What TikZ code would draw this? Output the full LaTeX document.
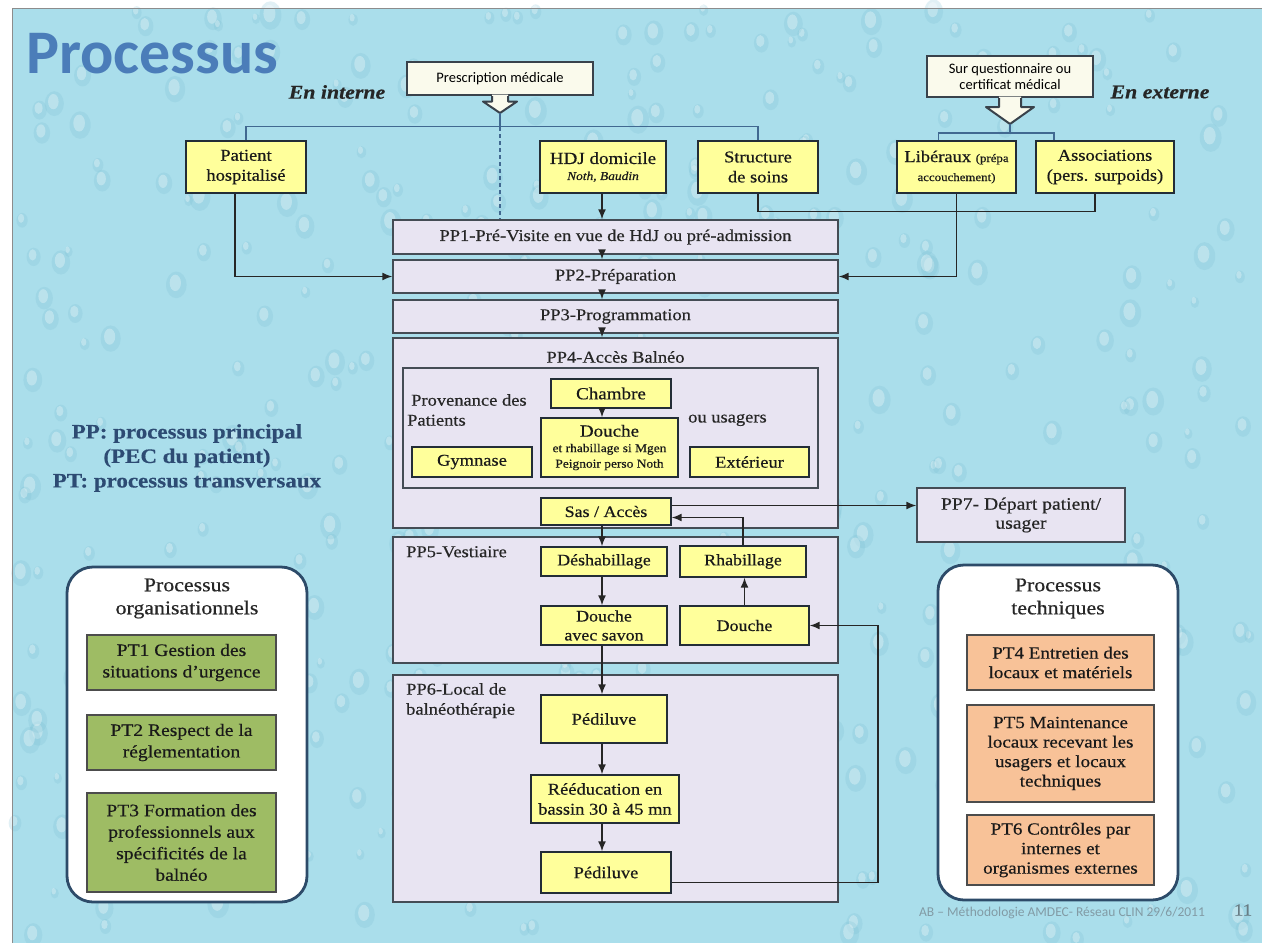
\documentclass[tikz,border=0pt]{standalone}
\usepackage{fontspec}
\setmainfont[FakeStretch=1.12,FakeBold=0.5]{Liberation Serif}
\newfontfamily\calibri{Carlito}
\usetikzlibrary{arrows.meta,calc}

\definecolor{slidebg}{RGB}{170,222,235}
\definecolor{dropcol}{RGB}{120,190,210}
\definecolor{boxline}{RGB}{35,45,55}
\definecolor{yellowbox}{RGB}{255,255,155}
\definecolor{lavender}{RGB}{232,228,242}
\definecolor{bracketcol}{RGB}{65,105,145}
\definecolor{titleblue}{RGB}{75,125,185}
\definecolor{legendblue}{RGB}{45,75,115}
\definecolor{ptgreen}{RGB}{158,188,100}
\definecolor{ptorange}{RGB}{248,194,152}
\definecolor{roundline}{RGB}{45,75,105}
\definecolor{calloutfill}{RGB}{250,250,236}
\definecolor{footgrey}{RGB}{130,155,165}

\tikzset{
  yelbox/.style={draw=boxline, line width=1.4pt, fill=yellowbox, align=center,
    inner sep=1pt, text=black!90, font=\fontsize{16.5}{19}\selectfont},
  ppbox/.style={draw=boxline!85, line width=1.4pt, fill=lavender, align=center,
    inner sep=1pt, text=black!85, font=\fontsize{16.5}{19}\selectfont},
  ppcap/.style={text=black!85, font=\fontsize{16.5}{20}\selectfont, align=left, inner sep=0pt},
  callout/.style={draw=boxline!90, line width=2pt, fill=calloutfill, align=center,
    inner sep=1pt, font=\calibri\fontsize{14.5}{16}\selectfont},
  roundbox/.style={draw=roundline, line width=2.8pt, fill=white, rounded corners=26pt},
  ptbox/.style={draw=black!70, line width=1.2pt, align=center, inner sep=1pt,
    text=black!90, font=\fontsize{17.5}{21.5}\selectfont, minimum width=189},
  sidelabel/.style={font=\bfseries\itshape\fontsize{19.5}{21}\selectfont, text=black!85},
  bracket/.style={draw=bracketcol, line width=1.6pt},
  link/.style={draw=black!85, line width=1.5pt},
  arr/.style={link, -{Latex[length=10pt,width=8pt]}},
}

\begin{document}
\begin{tikzpicture}[x=1pt,y=-1pt]
  \useasboundingbox (0,0) rectangle (1262,943);

  % Background
  \fill[white] (0,0) rectangle (1262,943);
  \fill[slidebg] (12,8) rectangle (1262,943);
  \pgfmathsetseed{11}
  \foreach \i in {1,...,420}{
    \pgfmathsetmacro\dx{14+1245*rnd}
    \pgfmathsetmacro\dy{10+930*rnd}
    \pgfmathsetmacro\rr{4+7*rnd}
    \fill[dropcol, opacity=.22] (\dx,\dy) ellipse ({\rr} and {1.3*\rr});
    \fill[white, opacity=.3] (\dx-1,\dy-2) ellipse ({.55*\rr} and {.8*\rr});
  }
  \draw[black!45, line width=1pt] (12,943) -- (12,8) -- (1262,8);

  % Title and side labels
  \node[anchor=base west, inner sep=0pt, text=titleblue,
        font=\calibri\bfseries\fontsize{62}{62}\selectfont] (title) at (26,73) {Processus};
  \node[sidelabel] (interne) at (337,92) {En interne};
  \node[sidelabel] (externe) at (1160,92) {En externe};

  % Callouts
  \node[callout, minimum width=186, minimum height=33] (presc) at (500,78.5) {Prescription médicale};
  \node[callout, minimum width=166, minimum height=41] (quest) at (1010,76.5) {Sur questionnaire ou\\certificat médical};

  \coordinate (prescTip) at ($(presc.south)+(0,17)$);
  \fill[calloutfill] ($(presc.south)+(-8,-1.5)$) -- ++(0,7) -- ++(-9,0) -- (prescTip)
    -- ($(presc.south)+(17,5.5)$) -- ++(-9,0) -- ++(0,-7) -- cycle;
  \draw[boxline!90, line width=2pt, line join=round] ($(presc.south)+(-8,0)$) -- ++(0,5.5) -- ++(-9,0)
    -- (prescTip) -- ($(presc.south)+(17,5.5)$) -- ++(-9,0) -- ++(0,-5.5);

  \coordinate (questTip) at ($(quest.south)+(0,26)$);
  \fill[calloutfill] ($(quest.south)+(-11,-1.5)$) -- ++(0,10.5) -- ++(-13,0) -- (questTip)
    -- ($(quest.south)+(24,9)$) -- ++(-13,0) -- ++(0,-10.5) -- cycle;
  \draw[boxline!90, line width=2pt, line join=round] ($(quest.south)+(-11,0)$) -- ++(0,9) -- ++(-13,0)
    -- (questTip) -- ($(quest.south)+(24,9)$) -- ++(-13,0) -- ++(0,-9);

  % Entry boxes
  \node[yelbox, minimum width=120, minimum height=52, font=\fontsize{16.5}{20}\selectfont] (patient) at (246,167) {Patient\\hospitalisé};
  \node[yelbox, minimum width=126, minimum height=52, font=\fontsize{17}{16}\selectfont] (hdj) at (603,167)
    {HDJ domicile\\{\itshape\fontsize{12}{13}\selectfont Noth, Baudin}};
  \node[yelbox, minimum width=120, minimum height=52, font=\fontsize{16.5}{20}\selectfont] (structure) at (758,167) {Structure\\de soins};
  \node[yelbox, minimum width=119, minimum height=52, font=\fontsize{16.5}{19}\selectfont] (liberaux) at (956.5,167)
    {Libéraux {\fontsize{11.5}{13}\selectfont(prépa}\\{\fontsize{11.5}{13}\selectfont accouchement)}};
  \node[yelbox, minimum width=138, minimum height=52, font=\fontsize{16.5}{20}\selectfont] (assoc) at (1105,167) {Associations\\(pers. surpoids)};

  % Main process column
  \coordinate (spine) at (602,0);
  \node[ppbox, minimum width=445, minimum height=34] (pp1) at (615.5,237) {PP1-Pré-Visite en vue de HdJ ou pré-admission};
  \node[ppbox, minimum width=445, minimum height=33] (pp2) at (615.5,276.5) {PP2-Préparation};
  \node[ppbox, minimum width=445, minimum height=33] (pp3) at (615.5,316.5) {PP3-Programmation};
  \node[ppbox, minimum width=445, minimum height=190] (pp4) at (615.5,433) {};
  \node[ppcap, font=\fontsize{16.5}{19}\selectfont] (pp4cap) at (615.5,357) {PP4-Accès Balnéo};
  \node[ppbox, minimum width=415, minimum height=120] (prov) at (610.5,428) {};
  \node[ppcap, anchor=west] (provcap) at (407,410) {\hspace*{4pt}Provenance des\\Patients};
  \node[ppcap, anchor=west] (usagers) at (688,420) {ou usagers};
  \node[yelbox, minimum width=120, minimum height=29, font=\fontsize{17}{18}\selectfont] (chambre) at (611,393.5) {Chambre};
  \node[yelbox, minimum width=137, minimum height=59, font=\fontsize{17}{15.5}\selectfont] (douche1) at (609.5,447.5)
    {Douche\\{\fontsize{12}{15}\selectfont et rhabillage si Mgen}\\{\fontsize{12}{15}\selectfont Peignoir perso Noth}};
  \node[yelbox, minimum width=120, minimum height=30, font=\fontsize{16.5}{18}\selectfont] (gymnase) at (472,462) {Gymnase};
  \node[yelbox, minimum width=119, minimum height=30, font=\fontsize{16.5}{18}\selectfont] (exterieur) at (749.5,462) {Extérieur};
  \node[yelbox, minimum width=130, minimum height=27, font=\fontsize{16}{18}\selectfont] (sas) at (606,511.5) {Sas / Accès};

  \node[ppbox, minimum width=445, minimum height=126] (pp5) at (615.5,600) {};
  \node[ppcap, anchor=north west] (pp5cap) at (406,546) {PP5-Vestiaire};
  \node[yelbox, minimum width=126, minimum height=29, font=\fontsize{16}{18}\selectfont] (deshab) at (604,561.5) {Déshabillage};
  \node[yelbox, minimum width=126, minimum height=31, font=\fontsize{16}{18}\selectfont] (rhab) at (743,561.5) {Rhabillage};
  \node[yelbox, minimum width=126, minimum height=39, font=\fontsize{16}{19}\selectfont] (savon) at (604,625.5) {Douche\\avec savon};
  \node[yelbox, minimum width=129, minimum height=39, font=\fontsize{16}{18}\selectfont] (douche2) at (744.5,625.5) {Douche};

  \node[ppbox, minimum width=445, minimum height=227] (pp6) at (615.5,788.5) {};
  \node[ppcap, anchor=north west] (pp6cap) at (406,683) {PP6-Local de\\balnéothérapie};
  \node[yelbox, minimum width=126, minimum height=48] (pedi1) at (604,719) {Pédiluve};
  \node[yelbox, minimum width=148, minimum height=48, font=\fontsize{16.5}{20}\selectfont] (reedu) at (605,799) {Rééducation en\\bassin 30 à 45 mn};
  \node[yelbox, minimum width=130, minimum height=41] (pedi2) at (606,872.5) {Pédiluve};

  \node[ppbox, minimum width=208, minimum height=54, font=\fontsize{17.5}{19}\selectfont] (pp7) at (1021,515) {PP7- Départ patient/\\usager};

  % Brackets
  \coordinate (brint) at (500,127);
  \draw[bracket] (patient.north) -- ++(0,-14) -| (structure.north);
  \draw[bracket] (prescTip) -- (brint);
  \draw[bracket, dashed, dash pattern=on 4pt off 3pt] (brint) -- (pp1.north -| brint);
  \coordinate (brext) at (1010,133);
  \draw[bracket] ([xshift=-18]liberaux.north) |- (brext) -| ([xshift=-51]assoc.north);
  \draw[bracket] (questTip) -- (brext);

  % Edges
  \draw[link] (structure.south) -- ++(0,18) -| ([xshift=-10]assoc.south);
  \draw[arr] (liberaux.south) |- (pp2.east);
  \draw[arr] ([xshift=-11]patient.south) |- (pp2.west);
  \draw[arr] (hdj.south -| spine) -- (pp1.north -| spine);
  \draw[arr] (pp1.south -| spine) -- (pp2.north -| spine);
  \draw[arr] (pp2.south -| spine) -- (pp3.north -| spine);
  \draw[arr] (pp3.south -| spine) -- (pp4.north -| spine);
  \draw[arr] (chambre.south -| spine) -- (douche1.north -| spine);
  \draw[arr] (sas.south -| spine) -- (deshab.north -| spine);
  \draw[arr] (deshab.south -| spine) -- (savon.north -| spine);
  \draw[arr] (savon.south -| spine) -- (pedi1.north -| spine);
  \draw[arr] (pedi1.south -| spine) -- (reedu.north -| spine);
  \draw[arr] (reedu.south -| spine) -- (pedi2.north -| spine);
  \draw[arr] (douche2.north) -- (douche2.north |- rhab.south);
  \draw[arr] (rhab.north) |- ([yshift=-6pt]sas.east);
  \draw[arr] ([yshift=6pt]sas.east) -- ([yshift=6pt]sas.east -| pp7.west);
  \coordinate (retour) at (878,0);
  \draw[arr] ([yshift=-10pt]pedi2.east) -| (retour |- douche2.east) -- (douche2.east);

  % Legend
  \node[align=center, text=legendblue, font=\bfseries\fontsize{20.5}{24.5}\selectfont] (legend) at (187,458)
    {PP: processus principal\\(PEC du patient)\\PT: processus transversaux};

  % Transverse processes
  \node[roundbox, minimum width=240, minimum height=335] (orgbox) at (187,734.5) {};
  \node[align=center, text=black!85, font=\fontsize{19.5}{23}\selectfont] (orgcap) at (187,598.5) {Processus\\organisationnels};
  \node[ptbox, fill=ptgreen, minimum height=55] (pt1) at (181.5,662.5) {PT1 Gestion des\\situations d'urgence};
  \node[ptbox, fill=ptgreen, minimum height=55] (pt2) at (181.5,742.5) {PT2 Respect de la\\réglementation};
  \node[ptbox, fill=ptgreen, minimum height=99] (pt3) at (181.5,842.5) {PT3 Formation des\\professionnels aux\\spécificités de la\\balnéo};

  \node[roundbox, minimum width=240, minimum height=335] (techbox) at (1058,732.5) {};
  \node[align=center, text=black!85, font=\fontsize{19.5}{23}\selectfont] (techcap) at (1058,598.5) {Processus\\techniques};
  \node[ptbox, fill=ptorange, minimum width=187, minimum height=55, font=\fontsize{17}{19.5}\selectfont] (pt4) at (1060.5,662.5) {PT4 Entretien des\\locaux et matériels};
  \node[ptbox, fill=ptorange, minimum width=187, minimum height=97, font=\fontsize{17}{19.5}\selectfont] (pt5) at (1060.5,753.5) {PT5 Maintenance\\locaux recevant les\\usagers et locaux\\techniques};
  \node[ptbox, fill=ptorange, minimum width=187, minimum height=70, font=\fontsize{17}{19.5}\selectfont] (pt6) at (1060.5,850) {PT6 Contrôles par\\internes et\\organismes externes};

  % Footer
  \node[text=footgrey, font=\calibri\fontsize{13.5}{14}\selectfont] (foot) at (1062,913) {AB – Méthodologie AMDEC- Réseau CLIN 29/6/2011};
  \node[text=footgrey!80!black, font=\fontsize{17}{18}\selectfont] (pagenum) at (1243,910) {11};
\end{tikzpicture}
\end{document}
